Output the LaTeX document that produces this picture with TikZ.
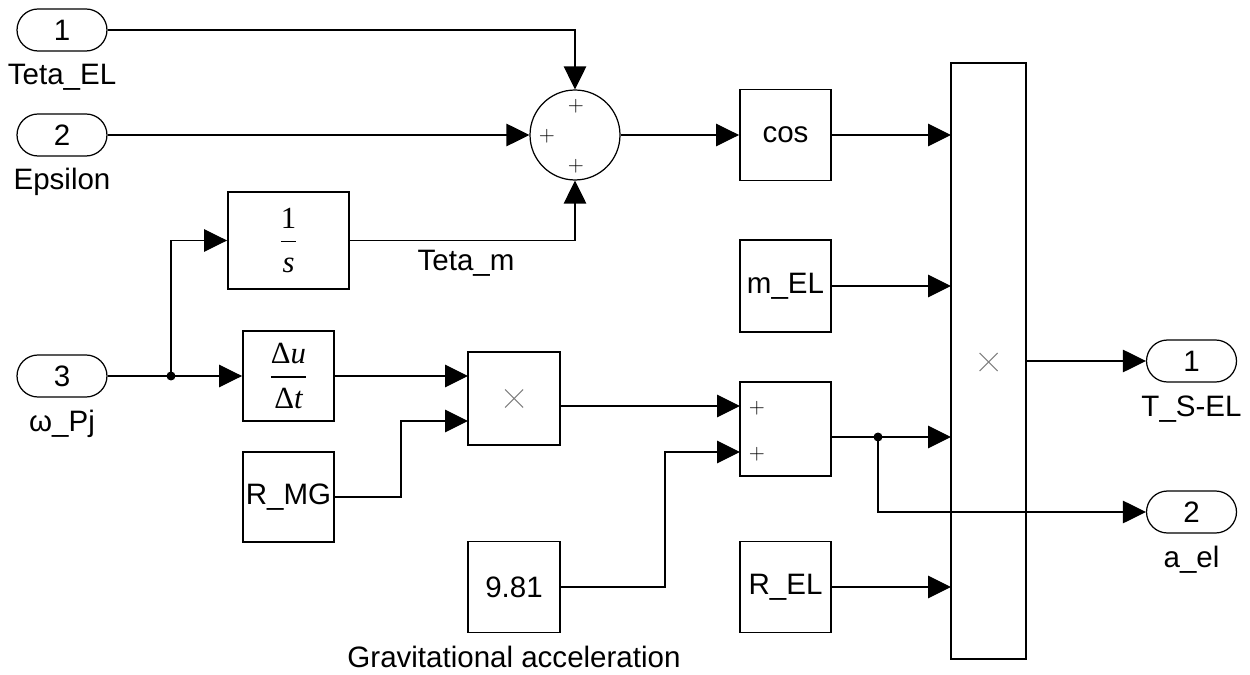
\documentclass[tikz,border=0pt]{standalone}
\usepackage{amsmath}
\usepackage{fontspec}
\setmainfont{Liberation Sans}
\newfontfamily\tms{Liberation Serif}
\usetikzlibrary{arrows.meta,shapes.misc}
\newcommand{\tfr}[2]{$\genfrac{}{}{0.8pt}{0}{\mbox{\tms #1\rule[-3.5pt]{0pt}{3pt}}}{\mbox{\tms\rule{0pt}{15pt}#2}}$}
\begin{document}
\begin{tikzpicture}[x=0.02cm,y=-0.02cm,
  txt/.style={font=\fontsize{16.8}{20}\selectfont},
  blk/.style={draw, line width=1.1pt, inner sep=0pt, txt},
  port/.style={draw, line width=0.7pt, rounded rectangle, minimum width=1.8cm, minimum height=0.84cm, inner sep=0pt, txt},
  lab/.style={anchor=base, txt, inner sep=0pt},
  wire/.style={line width=0.7pt},
  arr/.style={wire, -{Triangle[length=0.46cm,width=0.45cm]}},
  jdot/.style={circle, fill, inner sep=0pt, minimum size=0.18cm},
  sgn/.style={font=\fontsize{13}{13}\selectfont, inner sep=0pt},
  xmark/.style={gray, line width=0.6pt},
]
\useasboundingbox (0,0) rectangle (1250,675);

% ports
\node[port] (in1) at (62,30) {1};
\node[lab] (lin1) at (62,85) {Teta\_EL};
\node[port] (in2) at (62,135) {2};
\node[lab] (lin2) at (62,190) {Epsilon};
\node[port] (in3) at (62,376) {3};
\node[lab] (lin3) at (62,431) {ω\_Pj};
\node[port] (out1) at (1191.5,361) {1};
\node[lab] (lout1) at (1191.5,416) {T\_S-EL};
\node[port] (out2) at (1191.5,512) {2};
\node[lab] (lout2) at (1191.5,567) {a\_el};

% sum circle
\node[draw, circle, line width=0.7pt, minimum size=1.8cm, inner sep=0pt] (sum) at (575,135) {};
\node[sgn] (ps1) at (576,106) {$+$};
\node[sgn] (ps2) at (547,136) {$+$};
\node[sgn] (ps3) at (576,166) {$+$};

% blocks
\node[blk, minimum width=2.42cm, minimum height=1.94cm] (integ) at (288.5,240.5) {\fontsize{17.5}{20}\selectfont\tfr{1}{\itshape s}};
\node[lab] (lteta) at (466,271) {Teta\_m};
\node[blk, minimum width=1.82cm, minimum height=1.8cm] (deriv) at (288.5,376) {\fontsize{17.5}{20}\selectfont\tfr{Δ\itshape u}{Δ\itshape t}};
\node[blk, minimum width=1.82cm, minimum height=1.8cm] (rmg) at (288.5,497) {R\_MG};
\node[blk, minimum width=1.84cm, minimum height=1.86cm] (prod1) at (514,398.5) {};
\node[blk, minimum width=1.84cm, minimum height=1.82cm] (c981) at (514,587) {9.81};
\node[lab] (lgrav) at (514,667) {Gravitational acceleration};
\node[blk, minimum width=1.82cm, minimum height=1.82cm] (cos) at (785.5,135) {cos};
\node[blk, minimum width=1.82cm, minimum height=1.84cm] (mel) at (785.5,286) {m\_EL};
\node[blk, minimum width=1.82cm, minimum height=1.88cm] (sum2) at (785.5,429) {};
\node[sgn] (ps4) at (757,408) {$+$};
\node[sgn] (ps5) at (757,454) {$+$};
\node[blk, minimum width=1.82cm, minimum height=1.82cm] (rel) at (785.5,587) {R\_EL};
\node[blk, minimum width=1.5cm, minimum height=11.94cm] (bigprod) at (988.5,361) {};

% multiplication marks
\draw[xmark] ([shift={(-9,-9)}]prod1.center) -- ([shift={(9,9)}]prod1.center)
             ([shift={(-9,9)}]prod1.center) -- ([shift={(9,-9)}]prod1.center);
\draw[xmark] ([shift={(-9,-8)}]bigprod.center) -- ([shift={(9,10)}]bigprod.center)
             ([shift={(-9,10)}]bigprod.center) -- ([shift={(9,-8)}]bigprod.center);

% junctions and port coordinates
\node[jdot] (dot1) at (171,376) {};
\node[jdot] (dot2) at (878,437) {};
\coordinate (p1a) at (468,376);
\coordinate (p1b) at (468,421);
\coordinate (p1o) at (560,406);
\coordinate (s2a) at (740,406);
\coordinate (s2b) at (740,452);
\coordinate (s2o) at (831,437);
\coordinate (bp1) at (951,135);
\coordinate (bp2) at (951,286);
\coordinate (bp3) at (951,437);
\coordinate (bp4) at (951,587);

% connectors
\draw[arr] (in1.east) -| (sum.north);
\draw[arr] (in2.east) -- (sum.west);
\draw[arr] (integ.east) -| (sum.south);
\draw[arr] (sum.east) -- (cos.west);
\draw[arr] (cos.east) -- (bp1);
\draw[arr] (mel.east) -- (bp2);
\draw[arr] (rel.east) -- (bp4);
\draw[wire] (in3.east) -- (dot1.center);
\draw[arr] (dot1.center) -- (deriv.west);
\draw[arr] (dot1.center) |- (integ.west);
\draw[arr] (deriv.east) -- (p1a);
\draw[arr] (rmg.east) -- ++(66,0) |- (p1b);
\draw[arr] (p1o) -- (s2a);
\draw[arr] (c981.east) -- ++(104,0) |- (s2b);
\draw[wire] (s2o) -- (dot2.center);
\draw[arr] (dot2.center) -- (bp3);
\draw[arr] (dot2.center) |- (out2.west);
\draw[arr] (bigprod.east) -- (out1.west);
\end{tikzpicture}
\end{document}
